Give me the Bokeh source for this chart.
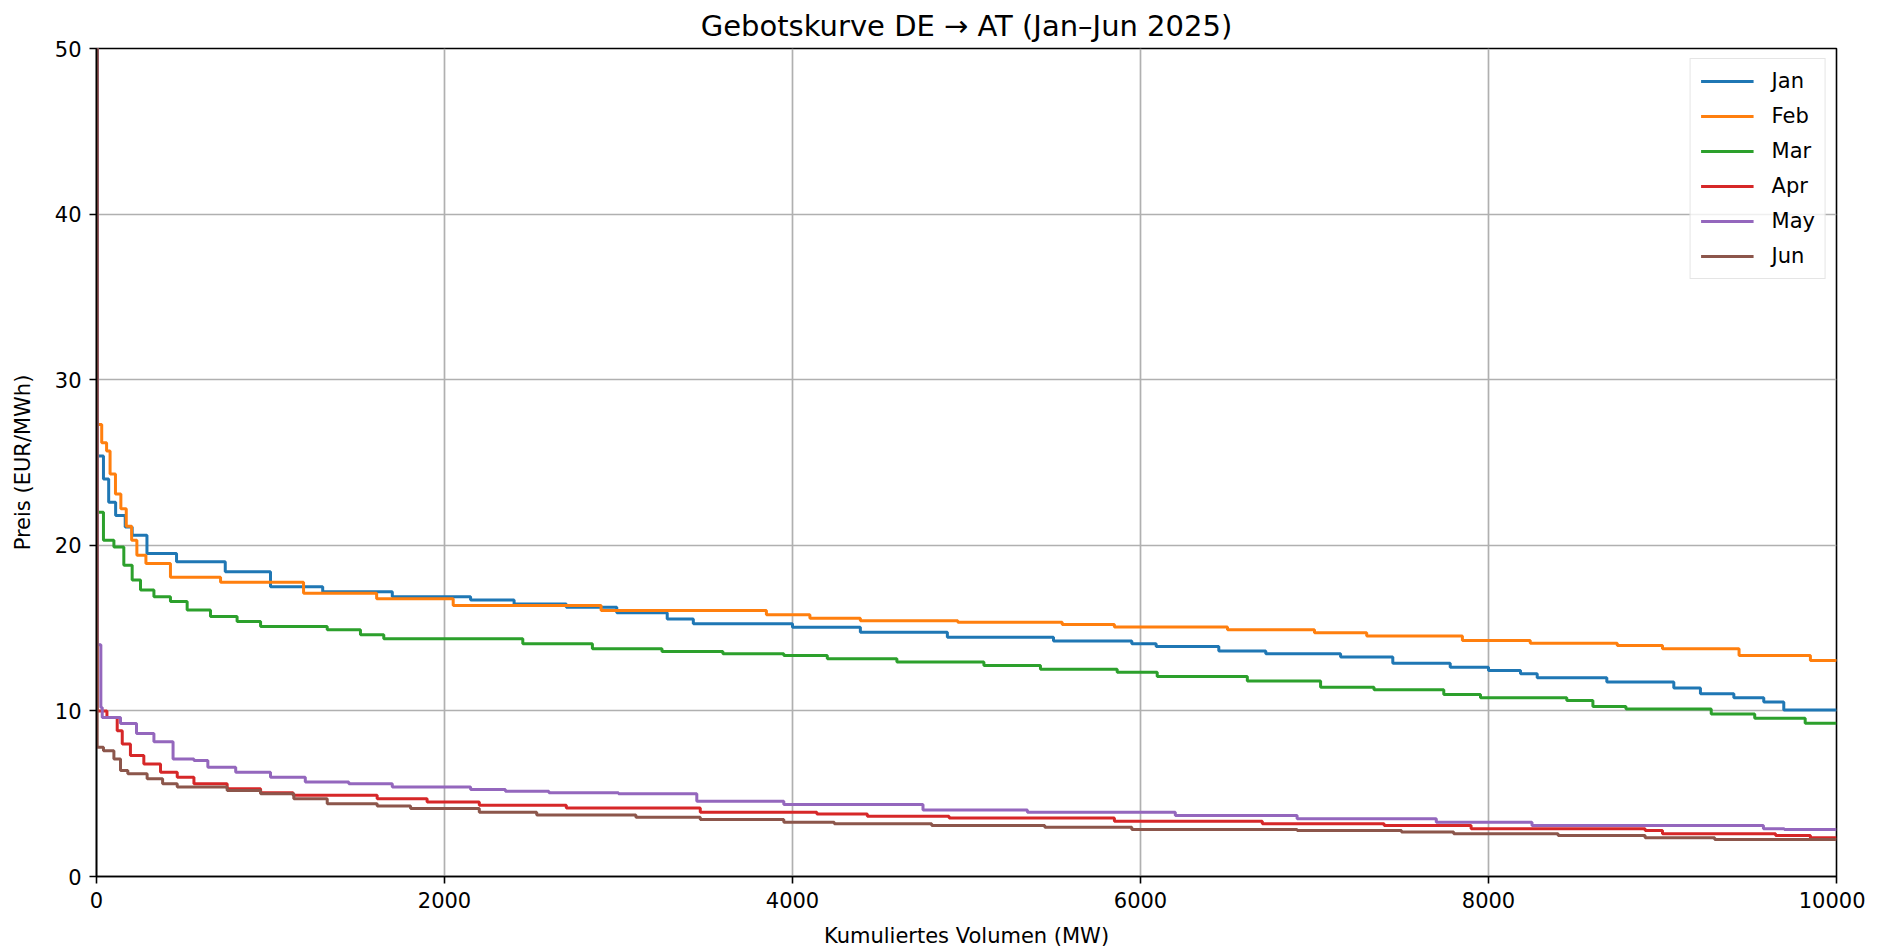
from bokeh.plotting import figure
from bokeh.models import Range1d, FixedTicker
from bokeh.embed import file_html
from bokeh.resources import INLINE

# Step-curve breakpoints (volume MW -> price EUR/MWh)
jan_vol = [0, 4, 40, 70, 110, 165, 205, 290, 460, 740, 1000, 1300, 1700, 2150, 2400, 2700, 2990, 3280, 3430, 4000, 4390, 4890, 5500, 5950, 6090, 6450, 6720, 7150, 7450, 7780, 8000, 8184, 8280, 8680, 9065, 9218, 9410, 9582, 9697, 10000]
jan_price = [50, 25.4, 24.0, 22.6, 21.8, 21.1, 20.6, 19.5, 19.0, 18.4, 17.5, 17.2, 16.9, 16.7, 16.45, 16.26, 15.92, 15.55, 15.26, 15.05, 14.75, 14.45, 14.22, 14.06, 13.89, 13.61, 13.45, 13.25, 12.88, 12.64, 12.44, 12.25, 12.0, 11.74, 11.39, 11.03, 10.79, 10.53, 10.05, 10.05]

feb_vol = [0, 4, 30, 58, 78, 109, 140, 171, 202, 232, 284, 425, 713, 1190, 1610, 2050, 2900, 3850, 4100, 4390, 4950, 5550, 5850, 6500, 7000, 7300, 7850, 8240, 8740, 9000, 9440, 9850, 10000]
feb_price = [50, 27.3, 26.2, 25.7, 24.3, 23.1, 22.2, 21.15, 20.3, 19.4, 18.9, 18.07, 17.77, 17.1, 16.77, 16.36, 16.06, 15.8, 15.6, 15.45, 15.36, 15.22, 15.06, 14.9, 14.72, 14.52, 14.25, 14.09, 13.95, 13.75, 13.35, 13.05, 13.0]

mar_vol = [0, 4, 40, 100, 157, 205, 253, 330, 425, 521, 655, 808, 943, 1326, 1517, 1651, 2450, 2850, 3250, 3600, 3950, 4200, 4600, 5100, 5425, 5866, 6096, 6614, 7035, 7342, 7743, 7954, 8450, 8600, 8790, 9280, 9530, 9820, 10000]
mar_price = [50, 22.0, 20.3, 19.9, 18.8, 17.9, 17.3, 16.9, 16.6, 16.1, 15.7, 15.4, 15.1, 14.9, 14.6, 14.35, 14.05, 13.75, 13.59, 13.45, 13.35, 13.15, 12.95, 12.74, 12.52, 12.34, 12.08, 11.8, 11.43, 11.27, 10.99, 10.79, 10.63, 10.27, 10.11, 9.82, 9.56, 9.26, 9.26]

apr_vol = [0, 4, 60, 119, 148, 195, 272, 368, 464, 560, 751, 943, 1130, 1613, 1900, 2200, 2700, 3470, 4140, 4430, 4900, 5850, 6700, 7400, 7900, 8900, 9000, 9650, 9850, 10000]
apr_price = [50, 10.0, 9.6, 8.8, 8.0, 7.3, 6.8, 6.3, 6.0, 5.6, 5.3, 5.05, 4.9, 4.7, 4.5, 4.3, 4.13, 3.88, 3.78, 3.64, 3.54, 3.34, 3.18, 3.08, 2.88, 2.78, 2.58, 2.48, 2.34, 2.34]

may_vol = [0, 4, 25, 33, 138, 230, 330, 440, 560, 640, 800, 1000, 1200, 1450, 1700, 2150, 2350, 2600, 3000, 3450, 3950, 4750, 5350, 6200, 6900, 7700, 8250, 9580, 9700, 10000]
may_price = [50, 14.0, 10.2, 9.6, 9.24, 8.64, 8.14, 7.1, 7.0, 6.6, 6.3, 6.0, 5.7, 5.6, 5.4, 5.25, 5.15, 5.05, 4.99, 4.55, 4.35, 4.02, 3.88, 3.68, 3.48, 3.28, 3.08, 2.88, 2.84, 2.84]

jun_vol = [0, 4, 40, 100, 138, 180, 291, 380, 464, 751, 943, 1134, 1326, 1613, 1805, 2200, 2530, 3100, 3470, 3950, 4240, 4800, 5450, 5950, 6900, 7500, 7800, 8400, 8900, 9300, 10000]
jun_price = [50, 7.8, 7.6, 7.1, 6.4, 6.2, 5.9, 5.6, 5.4, 5.2, 5.0, 4.7, 4.4, 4.25, 4.1, 3.88, 3.72, 3.58, 3.44, 3.28, 3.18, 3.08, 2.98, 2.84, 2.78, 2.68, 2.58, 2.48, 2.34, 2.24, 2.24]

months = ["Jan", "Feb", "Mar", "Apr", "May", "Jun"]
series = [(jan_vol, jan_price), (feb_vol, feb_price), (mar_vol, mar_price),
          (apr_vol, apr_price), (may_vol, may_price), (jun_vol, jun_price)]
colors = ["#1f77b4", "#ff7f0e", "#2ca02c", "#d62728", "#9467bd", "#8c564b"]

x_ticks = [0, 2000, 4000, 6000, 8000, 10000]
y_ticks = [0, 10, 20, 30, 40, 50]

FONT = "DejaVu Sans"

p = figure(width=1865, height=950,
           x_range=Range1d(0, 10000), y_range=Range1d(0, 50),
           output_backend="svg", toolbar_location=None,
           min_border_left=96, min_border_right=29,
           min_border_top=48, min_border_bottom=74,
           title="Gebotskurve DE \u2192 AT (Jan\u2013Jun 2025)")

p.title.align = "center"
p.title.text_font = FONT
p.title.text_font_size = "29px"
p.title.text_font_style = "normal"
p.title.text_color = "black"
p.title.standoff = 12

for (vx, vy), name, col in zip(series, months, colors):
    p.step(vx, vy, mode="after", line_color=col, line_width=3, legend_label=name)

p.xaxis.ticker = FixedTicker(ticks=x_ticks)
p.yaxis.ticker = FixedTicker(ticks=y_ticks)
p.xaxis.axis_label = "Kumuliertes Volumen (MW)"
p.yaxis.axis_label = "Preis (EUR/MWh)"

for ax in (p.xaxis, p.yaxis):
    ax.axis_label_text_font = FONT
    ax.axis_label_text_font_size = "21px"
    ax.axis_label_text_font_style = "normal"
    ax.axis_label_text_color = "black"
    ax.major_label_text_font = FONT
    ax.major_label_text_font_size = "21px"
    ax.major_label_text_color = "black"
    ax.axis_line_color = "black"
    ax.axis_line_width = 1.6
    ax.major_tick_line_color = "black"
    ax.major_tick_line_width = 1.6
    ax.major_tick_out = 7
    ax.major_tick_in = 0
    ax.minor_tick_out = 0
    ax.minor_tick_in = 0
    ax.major_label_standoff = 8

p.xaxis.axis_label_standoff = 13
p.yaxis.axis_label_standoff = 17

p.outline_line_color = "black"
p.outline_line_width = 1.6
p.outline_line_alpha = 1

p.grid.grid_line_color = "#b0b0b0"
p.grid.grid_line_width = 1.7

p.legend.location = "top_right"
p.legend.margin = 10
p.legend.padding = 10
p.legend.spacing = 11
p.legend.glyph_width = 53
p.legend.glyph_height = 22
p.legend.label_height = 22
p.legend.label_standoff = 18
p.legend.label_text_font = FONT
p.legend.label_text_font_size = "21px"
p.legend.label_text_color = "black"
p.legend.border_line_color = "#cccccc"
p.legend.border_line_width = 1.5
p.legend.background_fill_alpha = 0.8

open("out.html", "w").write(file_html(p, INLINE))
